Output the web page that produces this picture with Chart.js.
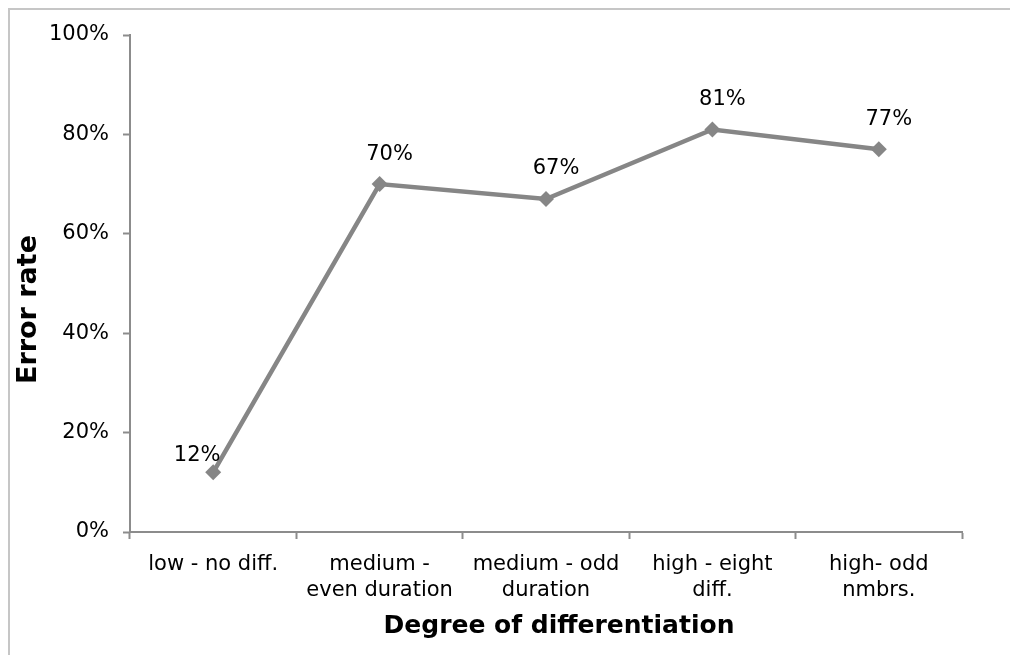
<!DOCTYPE html>
<html>
<head>
<meta charset="utf-8">
<script src="https://cdn.jsdelivr.net/npm/chart.js@4"></script>
<style>
    html, body { margin: 0; padding: 0; background: #fff; overflow: hidden; }
</style>
</head>
<body>
<canvas id="chart" width="1010" height="655"></canvas>
<script>
const categories = [
    'low - no diff.',
    ['medium -', 'even duration'],
    ['medium - odd', 'duration'],
    ['high - eight', 'diff.'],
    ['high- odd', 'nmbrs.']
];
const errorRate = [12, 70, 67, 81, 77];
const yTicks = [0, 20, 40, 60, 80, 100];
const xTitle = 'Degree of differentiation';
const yTitle = 'Error rate';

// light gray frame: only the top and left edges show in the original
const frame = {
    id: 'frame',
    beforeDraw(chart) {
        const ctx = chart.ctx;
        ctx.save();
        ctx.strokeStyle = '#c6c6c6';
        ctx.lineWidth = 2;
        ctx.beginPath();
        ctx.moveTo(9, chart.height);
        ctx.lineTo(9, 9);
        ctx.lineTo(chart.width, 9);
        ctx.stroke();
        ctx.restore();
    }
};

// value labels above each point (first one sits up-left like the original)
const pointLabels = {
    id: 'pointLabels',
    afterDatasetsDraw(chart) {
        const ctx = chart.ctx;
        const meta = chart.getDatasetMeta(0);
        ctx.save();
        ctx.font = '21px "DejaVu Sans"';
        ctx.fillStyle = '#000';
        ctx.textAlign = 'center';
        ctx.textBaseline = 'middle';
        meta.data.forEach((pt, i) => {
            const txt = errorRate[i] + '%';
            if (i === 0) {
                ctx.fillText(txt, pt.x - 16, pt.y - 17);
            } else {
                ctx.fillText(txt, pt.x + 10, pt.y - 30);
            }
        });
        ctx.restore();
    }
};

// axis titles, placed a little off-centre like the original
const axisTitles = {
    id: 'axisTitles',
    afterDraw(chart) {
        const ctx = chart.ctx;
        const a = chart.chartArea;
        ctx.save();
        ctx.fillStyle = '#000';
        ctx.textAlign = 'center';
        ctx.textBaseline = 'middle';
        ctx.font = 'bold 25px "DejaVu Sans"';
        ctx.fillText(xTitle, (a.left + a.right) / 2 + 13, 626);
        ctx.translate(29, (a.top + a.bottom) / 2 + 26);
        ctx.rotate(-Math.PI / 2);
        ctx.font = 'bold 27px "DejaVu Sans"';
        ctx.fillText(yTitle, 0, 0);
        ctx.restore();
    }
};

new Chart(document.getElementById('chart'), {
    type: 'line',
    data: {
        labels: categories,
        datasets: [{
            data: errorRate,
            borderColor: '#868686',
            backgroundColor: '#868686',
            borderWidth: 4.5,
            pointStyle: 'rectRot',
            pointRadius: 8,
            pointBorderWidth: 0,
            pointBackgroundColor: '#868686',
            tension: 0
        }]
    },
    options: {
        responsive: false,
        animation: false,
        layout: { padding: { top: 35, right: 48, left: 0, bottom: 0 } },
        plugins: {
            legend: { display: false },
            tooltip: { enabled: false }
        },
        scales: {
            x: {
                offset: true,
                afterFit: s => { s.height = 655 - 532; },
                grid: {
                    offset: true,
                    drawOnChartArea: false,
                    tickLength: 7,
                    tickColor: '#8c8c8c',
                    tickWidth: 2
                },
                border: { color: '#8c8c8c', width: 2 },
                ticks: {
                    color: '#000',
                    padding: 12,
                    maxRotation: 0,
                    autoSkip: false,
                    font: { family: 'DejaVu Sans', size: 21, lineHeight: 1.25 }
                }
            },
            y: {
                min: 0,
                max: 100,
                afterFit: s => { s.width = 130; },
                afterBuildTicks: s => { s.ticks = yTicks.map(v => ({ value: v })); },
                grid: {
                    drawOnChartArea: false,
                    tickLength: 7,
                    tickColor: '#8c8c8c',
                    tickWidth: 2
                },
                border: { color: '#8c8c8c', width: 2 },
                ticks: {
                    color: '#000',
                    padding: 14,
                    callback: v => v + '%',
                    font: { family: 'DejaVu Sans', size: 21 }
                }
            }
        }
    },
    plugins: [frame, pointLabels, axisTitles]
});
</script>
</body>
</html>
